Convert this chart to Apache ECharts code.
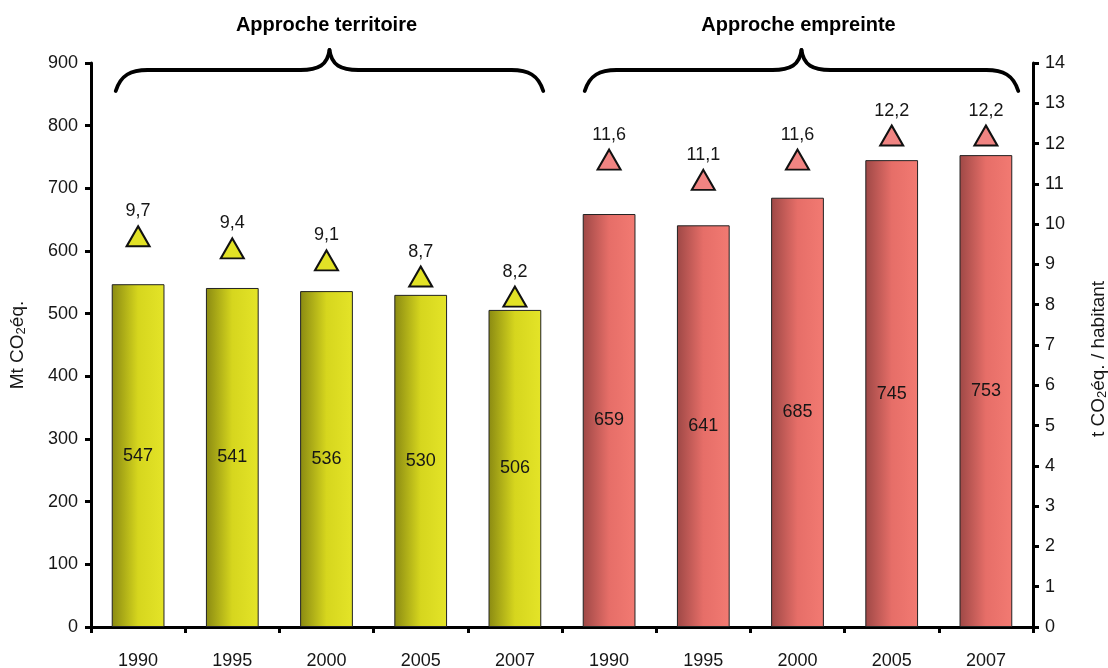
<!DOCTYPE html>
<html>
<head>
<meta charset="utf-8">
<title>Émissions de CO2 — approches territoire et empreinte</title>
<script src="https://cdn.jsdelivr.net/npm/echarts@6/dist/echarts.min.js"></script>
<style>
  html, body { margin: 0; padding: 0; background: #fff; }
  #chart { width: 1108px; height: 668px; }
</style>
</head>
<body>
<div id="chart"></div>
<script>
// Years, repeated for the two accounting approaches
const years = ['1990', '1995', '2000', '2005', '2007', '1990', '1995', '2000', '2005', '2007'];
// Total emissions, Mt CO2 eq. (first five: territory, last five: footprint)
const totalMt = [547, 541, 536, 530, 506, 659, 641, 685, 745, 753];
// Emissions per inhabitant, t CO2 eq.
const perCapita = [9.7, 9.4, 9.1, 8.7, 8.2, 11.6, 11.1, 11.6, 12.2, 12.2];
// Group headings and the index range each covers
const groupNames = ['Approche territoire', 'Approche empreinte'];
const groupStart = [0, 5];
const groupEnd = [4, 9];
// Left and right axis ticks
const leftTicks = { min: 0, max: 900, interval: 100 };
const rightTicks = { min: 0, max: 14, interval: 1 };

const FONT = '"Liberation Sans", Arial, Helvetica, sans-serif';
const TEXT = '#161616';

function isFootprint(i) { return i >= groupStart[1]; }

const yellowFill = new echarts.graphic.LinearGradient(0, 0, 1, 0, [
  { offset: 0, color: '#8a8a12' },
  { offset: 0.5, color: '#d6d61e' },
  { offset: 1, color: '#e4e428' }
]);
const redFill = new echarts.graphic.LinearGradient(0, 0, 1, 0, [
  { offset: 0, color: '#9e4846' },
  { offset: 0.5, color: '#e66e68' },
  { offset: 1, color: '#f27a72' }
]);

const chart = echarts.init(document.getElementById('chart'), null, { renderer: 'canvas' });

const axisLine = { show: true, lineStyle: { color: '#000', width: 3 } };
const axisTick = { show: true, length: 6, lineStyle: { color: '#000', width: 3 } };

// Axis title style with a subscript "2"
function nameStyle(pad) {
  return {
    color: TEXT, fontSize: 19, fontFamily: FONT, padding: pad,
    rich: {
      sub: { fontSize: 13, fontFamily: FONT, color: TEXT, padding: [7, 0, 0, 0] }
    }
  };
}

const option = {
  animation: false,
  backgroundColor: '#fff',
  textStyle: { fontFamily: FONT },
  grid: { left: 91, right: 75, top: 63, bottom: 41, outerBoundsMode: 'none', containLabel: false },
  xAxis: {
    type: 'category',
    data: years,
    boundaryGap: true,
    axisLine: axisLine,
    axisTick: { show: true, length: 6, lineStyle: { color: '#000', width: 3 } },
    axisLabel: { color: TEXT, fontSize: 18, margin: 25, fontFamily: FONT, interval: 0 },
    splitLine: { show: false }
  },
  yAxis: [
    {
      type: 'value',
      position: 'left',
      min: leftTicks.min, max: leftTicks.max, interval: leftTicks.interval,
      name: 'Mt CO{sub|2}éq.',
      nameLocation: 'middle',
      nameGap: 63,
      nameRotate: 90,
      nameTextStyle: nameStyle([0, 0, 0, 0]),
      axisLine: axisLine,
      axisTick: axisTick,
      axisLabel: { color: TEXT, fontSize: 18, margin: 13, fontFamily: FONT },
      splitLine: { show: false }
    },
    {
      type: 'value',
      position: 'right',
      min: rightTicks.min, max: rightTicks.max, interval: rightTicks.interval,
      name: 't CO{sub|2}éq. / habitant',
      nameLocation: 'middle',
      nameGap: 56,
      nameRotate: 90,
      nameTextStyle: nameStyle([0, 28, 0, 0]),
      axisLine: axisLine,
      axisTick: axisTick,
      axisLabel: { color: TEXT, fontSize: 18, margin: 12, fontFamily: FONT },
      splitLine: { show: false }
    }
  ],
  series: [
    {
      name: 'Mt CO2 eq.',
      type: 'bar',
      yAxisIndex: 0,
      barWidth: '56%',
      data: totalMt.map((v, i) => ({
        value: v,
        itemStyle: {
          color: isFootprint(i) ? redFill : yellowFill,
          borderColor: '#222',
          borderWidth: 1
        }
      })),
      label: {
        show: true,
        position: 'inside',
        color: TEXT,
        fontSize: 18,
        fontFamily: FONT
      }
    },
    {
      name: 't CO2 eq. / habitant',
      type: 'scatter',
      yAxisIndex: 1,
      symbol: 'triangle',
      symbolSize: [23, 20],
      data: perCapita.map((v, i) => ({
        value: v,
        itemStyle: {
          color: isFootprint(i) ? '#f08482' : '#e2e226',
          borderColor: '#111',
          borderWidth: 2,
          opacity: 1
        }
      })),
      label: {
        show: true,
        position: 'top',
        distance: 5,
        color: TEXT,
        fontSize: 18,
        fontFamily: FONT,
        formatter: p => String(p.value).replace('.', ',')
      },
      z: 5
    }
  ]
};

chart.setOption(option);

// Curly brace built from straight segments and cubic curves
function braceElements(x0, x1, yEnd, yLine, yTip) {
  const xm = (x0 + x1) / 2;
  const r = 32;
  const st = { stroke: '#000', lineWidth: 3.8, fill: null, lineCap: 'round' };
  const curve = (a, b, c1, c2) => ({
    type: 'bezierCurve', silent: true, style: st,
    shape: { x1: a[0], y1: a[1], x2: b[0], y2: b[1], cpx1: c1[0], cpy1: c1[1], cpx2: c2[0], cpy2: c2[1] }
  });
  const line = (a, b) => ({
    type: 'line', silent: true, style: st,
    shape: { x1: a[0], y1: a[1], x2: b[0], y2: b[1] }
  });
  return [
    curve([x0, yEnd], [x0 + r, yLine], [x0 + 5, yLine + 5], [x0 + 15, yLine]),
    line([x0 + r, yLine], [xm - 29, yLine]),
    curve([xm - 29, yLine], [xm, yTip], [xm - 11, yLine], [xm - 2, yLine - 5]),
    curve([xm, yTip], [xm + 29, yLine], [xm + 2, yLine - 5], [xm + 11, yLine]),
    line([xm + 29, yLine], [x1 - r, yLine]),
    curve([x1 - r, yLine], [x1, yEnd], [x1 - 15, yLine], [x1 - 5, yLine + 5])
  ];
}

function drawBraces() {
  const band = chart.convertToPixel({ xAxisIndex: 0 }, 1) - chart.convertToPixel({ xAxisIndex: 0 }, 0);
  const barHalf = band * 0.28;
  let elements = [];
  groupNames.forEach((name, g) => {
    const x0 = chart.convertToPixel({ xAxisIndex: 0 }, groupStart[g]) - barHalf + (g === 0 ? 4 : 2);
    const x1 = chart.convertToPixel({ xAxisIndex: 0 }, groupEnd[g]) + barHalf + (g === 0 ? 2 : 6);
    elements = elements.concat(braceElements(x0, x1, 91, 70, 50));
    elements.push({
      type: 'text',
      x: (x0 + x1) / 2 - 3,
      y: 25,
      silent: true,
      style: {
        text: name,
        fill: '#000',
        font: 'bold 20px ' + FONT,
        align: 'center',
        verticalAlign: 'middle'
      }
    });
  });
  chart.setOption({ graphic: { elements: elements } });
}

drawBraces();
</script>
</body>
</html>
